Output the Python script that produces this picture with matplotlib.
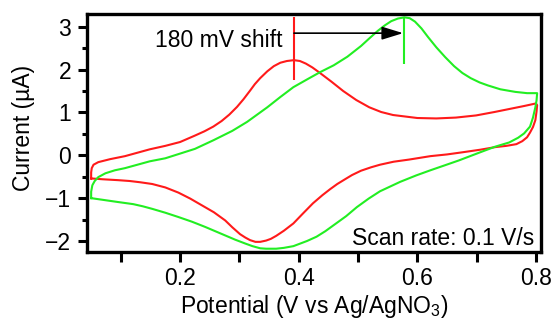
import numpy as np
import matplotlib
matplotlib.use("Agg")
from matplotlib import pyplot as plt

plt.rcParams['font.family'] = ['Liberation Sans', 'DejaVu Sans']
plt.rcParams['mathtext.fontset'] = 'custom'
plt.rcParams['mathtext.rm'] = 'Liberation Sans'
plt.rcParams['mathtext.it'] = 'Liberation Sans:italic'

# cyclic voltammograms (V, uA)
red_v = [0.050, 0.050, 0.051, 0.054, 0.062, 0.082, 0.107, 0.149, 0.175, 0.200,
         0.225, 0.241, 0.256, 0.270, 0.283, 0.296, 0.307, 0.318, 0.326, 0.335,
         0.347, 0.358, 0.369, 0.380, 0.392, 0.402, 0.412, 0.423, 0.434, 0.455,
         0.475, 0.497, 0.519, 0.539, 0.559, 0.600, 0.632, 0.665, 0.699, 0.730,
         0.755, 0.780, 0.800, 0.802, 0.801, 0.799, 0.795, 0.790, 0.785, 0.777,
         0.767, 0.750, 0.731, 0.706, 0.676, 0.650, 0.622, 0.586, 0.560, 0.537,
         0.522, 0.505, 0.490, 0.478, 0.465, 0.453, 0.440, 0.424, 0.407, 0.391,
         0.375, 0.362, 0.353, 0.345, 0.335, 0.327, 0.318, 0.310, 0.301, 0.288,
         0.276, 0.257, 0.237, 0.217, 0.197, 0.175, 0.153, 0.133, 0.115, 0.095,
         0.070, 0.050]
red_i = [-0.54, -0.40, -0.30, -0.22, -0.16, -0.09, -0.02, 0.14, 0.22, 0.31,
         0.46, 0.56, 0.67, 0.80, 0.95, 1.13, 1.31, 1.51, 1.66, 1.80,
         1.96, 2.08, 2.16, 2.20, 2.22, 2.20, 2.14, 2.05, 1.94, 1.72,
         1.50, 1.29, 1.12, 1.01, 0.94, 0.87, 0.86, 0.88, 0.93, 1.01,
         1.08, 1.15, 1.21, 1.17, 1.02, 0.82, 0.66, 0.53, 0.42, 0.33,
         0.26, 0.22, 0.19, 0.13, 0.07, 0.02, -0.02, -0.10, -0.15, -0.22,
         -0.28, -0.36, -0.46, -0.56, -0.67, -0.79, -0.93, -1.12, -1.36, -1.59,
         -1.76, -1.88, -1.95, -1.99, -2.02, -2.02, -1.98, -1.92, -1.84, -1.68,
         -1.52, -1.33, -1.17, -1.01, -0.87, -0.75, -0.67, -0.63, -0.60, -0.58,
         -0.56, -0.54]

green_v = [0.050, 0.050, 0.052, 0.056, 0.062, 0.074, 0.090, 0.107, 0.128, 0.149,
           0.175, 0.200, 0.225, 0.256, 0.288, 0.313, 0.347, 0.369, 0.391, 0.414,
           0.436, 0.459, 0.482, 0.505, 0.520, 0.533, 0.545, 0.556, 0.567, 0.578,
           0.587, 0.596, 0.607, 0.618, 0.632, 0.647, 0.662, 0.676, 0.690, 0.705,
           0.719, 0.740, 0.765, 0.785, 0.802, 0.801, 0.799, 0.795, 0.790, 0.780,
           0.770, 0.755, 0.731, 0.706, 0.670, 0.645, 0.622, 0.598, 0.571, 0.537,
           0.518, 0.498, 0.480, 0.460, 0.445, 0.430, 0.414, 0.391, 0.375, 0.362,
           0.345, 0.335, 0.322, 0.310, 0.293, 0.276, 0.242, 0.220, 0.197, 0.175,
           0.153, 0.137, 0.121, 0.095, 0.070, 0.050]
green_i = [-1.00, -0.85, -0.70, -0.60, -0.51, -0.42, -0.35, -0.30, -0.22, -0.14,
           -0.07, 0.04, 0.15, 0.35, 0.57, 0.78, 1.12, 1.36, 1.59, 1.77,
           1.94, 2.10, 2.30, 2.55, 2.74, 2.90, 3.03, 3.13, 3.19, 3.22,
           3.20, 3.12, 2.96, 2.76, 2.52, 2.29, 2.08, 1.92, 1.80, 1.70,
           1.63, 1.54, 1.48, 1.45, 1.45, 1.28, 1.12, 0.88, 0.67, 0.51,
           0.41, 0.30, 0.20, 0.07, -0.12, -0.24, -0.35, -0.47, -0.62, -0.84,
           -1.01, -1.21, -1.42, -1.62, -1.77, -1.90, -2.00, -2.12, -2.16, -2.18,
           -2.18, -2.17, -2.12, -2.06, -1.97, -1.87, -1.67, -1.55, -1.44, -1.34,
           -1.25, -1.19, -1.14, -1.09, -1.04, -1.00]

# anodic peak markers and shift arrow
red_peak = [0.392, 1.76, 3.22]
green_peak = [0.578, 2.13, 3.22]
arrow_y = 2.85
red_col = '#ff1a1a'
green_col = '#22ee22'

fig = plt.figure(figsize=(5.56, 3.2), dpi=100)
ax = fig.add_axes([0.1568, 0.2134, 0.8162, 0.7419])

ax.plot(red_v, red_i, color=red_col, lw=1.5)
ax.plot(green_v, green_i, color=green_col, lw=1.5)

ax.vlines(red_peak[0], red_peak[1], red_peak[2], color=red_col, lw=1.5)
ax.vlines(green_peak[0], green_peak[1], green_peak[2], color=green_col, lw=1.5)
ax.annotate('', xy=(green_peak[0] - 0.002, arrow_y), xytext=(red_peak[0], arrow_y),
            arrowprops=dict(arrowstyle='-|>,head_length=0.65,head_width=0.2',
                            mutation_scale=20, color='black', lw=1.2,
                            shrinkA=0, shrinkB=0))
ax.text(0.373, 2.68, '180 mV shift', ha='right', va='center', fontsize=16.5)
ax.text(0.797, -1.94, 'Scan rate: 0.1 V/s', ha='right', va='center', fontsize=16.5)

ax.set_xlim(0.0433, 0.8085)
ax.set_ylim(-2.25, 3.29)

ax.set_xticks([0.2, 0.4, 0.6, 0.8])
ax.set_xticklabels(['0.2', '0.4', '0.6', '0.8'])
ax.set_xticks([0.1, 0.3, 0.5, 0.7], minor=True)
ax.set_yticks([-2, -1, 0, 1, 2, 3])
ax.set_yticklabels(['\u22122', '\u22121', '0', '1', '2', '3'])
ax.set_yticks([-1.5, -0.5, 0.5, 1.5, 2.5], minor=True)

ax.tick_params(axis='x', which='both', direction='out', length=7, width=2.2,
               labelsize=16.5, pad=4)
ax.tick_params(axis='y', which='major', direction='out', length=6.5, width=2.2,
               labelsize=16.5, pad=5)
ax.tick_params(axis='y', which='minor', direction='out', length=3.5, width=2.2)
for s in ax.spines.values():
    s.set_linewidth(2.4)

ax.set_xlabel('Potential (V vs Ag/AgNO$_3$)', fontsize=16.5)
ax.set_ylabel('Current (\u00b5A)', fontsize=16.5)
ax.xaxis.set_label_coords(0.5, -0.175)
ax.yaxis.set_label_coords(-0.115, 0.523)

fig.savefig('out.png', dpi=100)
